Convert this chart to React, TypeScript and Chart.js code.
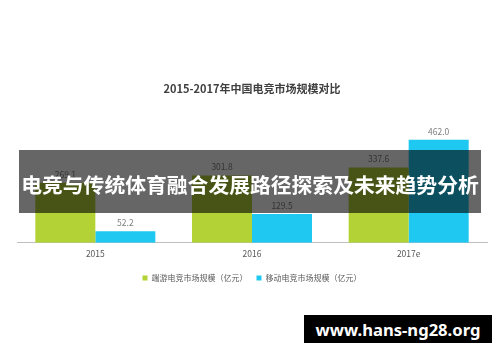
import React, { useEffect, useRef } from "react";
import { Chart, registerables } from "chart.js";

Chart.register(...registerables);

const categories = ["2015", "2016", "2017e"];
const pcValues = [269.1, 301.8, 337.6];
const mobileValues = [52.2, 129.5, 462.0];
const seriesNames = ["端游电竞市场规模（亿元）", "移动电竞市场规模（亿元）"];
const chartTitle = "2015-2017年中国电竞市场规模对比";
const bannerText = "电竞与传统体育融合发展路径探索及未来趋势分析";
const watermarkText = "www.hans-ng28.org";

const FONT = "'Noto Sans CJK SC', 'Noto Sans', sans-serif";

const valueLabels = {
  id: "valueLabels",
  afterDatasetsDraw(chart: any) {
    const ctx = chart.ctx;
    ctx.save();
    ctx.font = `8.5px ${FONT}`;
    ctx.fillStyle = "#7f7f7f";
    ctx.textAlign = "center";
    ctx.textBaseline = "bottom";
    chart.data.datasets.forEach((ds: any, i: number) => {
      const meta = chart.getDatasetMeta(i);
      meta.data.forEach((el: any, j: number) => {
        const v = ds.data[j];
        ctx.fillText(Number(v).toFixed(1), el.x, el.y - 4);
      });
    });
    ctx.restore();
  },
};

export default function App() {
  const ref = useRef<HTMLCanvasElement>(null);
  useEffect(() => {
    document.body.style.margin = "0";
    const chart = new Chart(ref.current!, {
      type: "bar",
      data: {
        labels: categories,
        datasets: [
          { label: seriesNames[0], data: pcValues, backgroundColor: "#b2d235", borderWidth: 0 },
          { label: seriesNames[1], data: mobileValues, backgroundColor: "#1fc8f1", borderWidth: 0 },
        ],
      },
      options: {
        animation: false,
        responsive: false,
        maintainAspectRatio: false,
        layout: { padding: { left: 17, right: 13, top: 0, bottom: 70 } },
        datasets: { bar: { categoryPercentage: 0.766, barPercentage: 1 } } as any,
        scales: {
          x: {
            grid: { display: false, drawTicks: false },
            border: { display: true, color: "#bfbfbf", width: 1 },
            ticks: { color: "#595959", font: { family: FONT, size: 8.5 }, padding: 6 },
          },
          y: { display: false, min: 0, max: 500 },
        },
        plugins: {
          title: {
            display: true,
            text: chartTitle,
            color: "#404040",
            font: { family: FONT, size: 11, weight: "bold" },
            padding: { top: 82, bottom: 36 },
          },
          legend: {
            position: "bottom",
            labels: {
              color: "#595959",
              font: { family: FONT, size: 8 },
              boxWidth: 5,
              boxHeight: 5,
              padding: 9,
            },
          },
          tooltip: { enabled: false },
        },
      },
      plugins: [valueLabels],
    });
    return () => chart.destroy();
  }, []);
  return (
    <div style={{ position: "relative", width: 500, height: 362, background: "#fff" }}>
      <canvas ref={ref} width={500} height={362} style={{ position: "absolute", left: 0, top: 0 }} />
      <div
        style={{
          position: "absolute",
          left: 19,
          top: 150,
          width: 462,
          height: 63,
          background: "rgba(0,0,0,0.6)",
          color: "#fff",
          fontFamily: FONT,
          fontWeight: "bold",
          fontSize: 20.8,
          display: "flex",
          alignItems: "center",
          justifyContent: "center",
          whiteSpace: "nowrap",
          paddingTop: 4,
          boxSizing: "border-box",
        }}
      >
        {bannerText}
      </div>
      <div
        style={{
          position: "absolute",
          left: 304,
          top: 315,
          width: 188,
          height: 28,
          background: "#000",
          color: "#fff",
          fontFamily: "'Noto Sans', sans-serif",
          fontWeight: "bold",
          fontSize: 16.6,
          display: "flex",
          alignItems: "center",
          justifyContent: "center",
          whiteSpace: "nowrap",
        }}
      >
        {watermarkText}
      </div>
    </div>
  );
}
